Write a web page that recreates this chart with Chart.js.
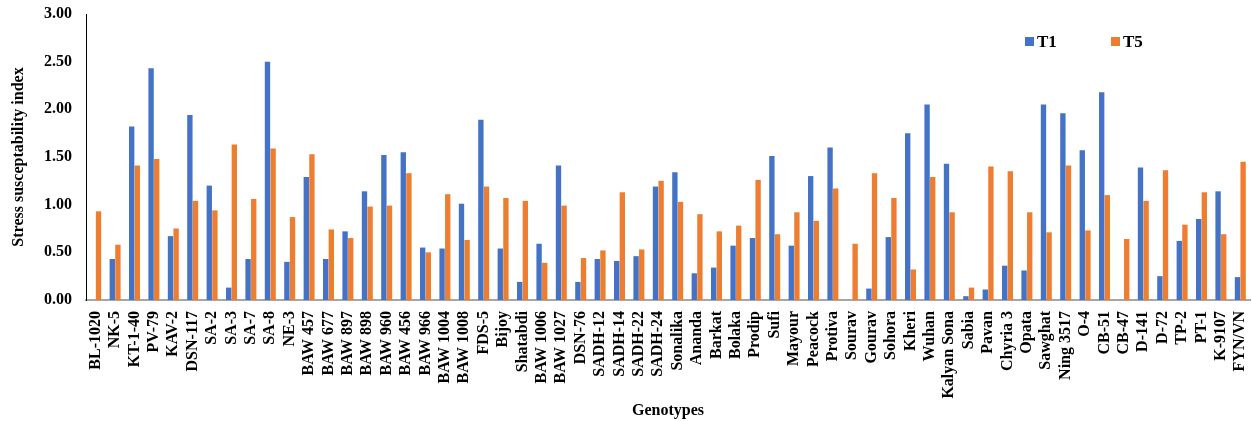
<!DOCTYPE html>
<html>
<head>
<meta charset="utf-8">
<script src="https://cdn.jsdelivr.net/npm/chart.js@4/dist/chart.umd.min.js"></script>
<style>
  html, body { margin: 0; padding: 0; background: #ffffff; }
  #wrap { position: relative; width: 1253px; height: 421px; }
</style>
</head>
<body>
<div id="wrap"><canvas id="c" width="1253" height="421"></canvas></div>
<script>
const genotypes = ["BL-1020","NK-5","KT-1-40","PV-79","KAV-2","DSN-117","SA-2","SA-3","SA-7","SA-8","NE-3","BAW 457","BAW 677","BAW 897","BAW 898","BAW 960","BAW 456","BAW 966","BAW 1004","BAW 1008","FDS-5","Bijoy","Shatabdi","BAW 1006","BAW 1027","DSN-76","SADH-12","SADH-14","SADH-22","SADH-24","Sonalika","Ananda","Barkat","Bolaka","Prodip","Sufi","Mayour","Peacock","Protiva","Sourav","Gourav","Sohora","Kheri","Wuhan","Kalyan Sona","Sabia","Pavan","Chyria 3","Opata","Sawghat","Ning 3517","O-4","CB-51","CB-47","D-141","D-72","TP-2","PT-1","K-9107","FYN/VN"];

const t1 = [0, 0.43, 1.82, 2.43, 0.67, 1.94, 1.20, 0.13, 0.43, 2.50, 0.40, 1.29, 0.43, 0.72, 1.14, 1.52, 1.55, 0.55, 0.54, 1.01, 1.89, 0.54, 0.19, 0.59, 1.41, 0.19, 0.43, 0.41, 0.46, 1.19, 1.34, 0.28, 0.34, 0.57, 0.65, 1.51, 0.57, 1.30, 1.60, 0, 0.12, 0.66, 1.75, 2.05, 1.43, 0.04, 0.11, 0.36, 0.31, 2.05, 1.96, 1.57, 2.18, 0, 1.39, 0.25, 0.62, 0.85, 1.14, 0.24];

const t5 = [0.93, 0.58, 1.41, 1.48, 0.75, 1.04, 0.94, 1.63, 1.06, 1.59, 0.87, 1.53, 0.74, 0.65, 0.98, 0.99, 1.33, 0.50, 1.11, 0.63, 1.19, 1.07, 1.04, 0.39, 0.99, 0.44, 0.52, 1.13, 0.53, 1.25, 1.03, 0.90, 0.72, 0.78, 1.26, 0.69, 0.92, 0.83, 1.17, 0.59, 1.33, 1.07, 0.32, 1.29, 0.92, 0.13, 1.40, 1.35, 0.92, 0.71, 1.41, 0.73, 1.10, 0.64, 1.04, 1.36, 0.79, 1.13, 0.69, 1.45];

const yTicks = [0, 0.5, 1.0, 1.5, 2.0, 2.5, 3.0];
const seriesNames = ["T1", "T5"];
const seriesColors = ["#4472C4", "#ED7D31"];

const serif = "'Liberation Serif', 'Times New Roman', serif";

const legendPlugin = {
  id: 'customLegend',
  afterDraw(chart) {
    const ctx = chart.ctx;
    const right = chart.chartArea.right;
    const items = [
      { x: right - 225, label: seriesNames[0], color: seriesColors[0] },
      { x: right - 139, label: seriesNames[1], color: seriesColors[1] }
    ];
    ctx.save();
    ctx.font = "bold 17px " + serif;
    ctx.textBaseline = 'alphabetic';
    ctx.textAlign = 'left';
    items.forEach(it => {
      ctx.fillStyle = it.color;
      ctx.fillRect(it.x, 37, 9, 9);
      ctx.fillStyle = '#000000';
      ctx.fillText(it.label, it.x + 12, 47);
    });
    ctx.restore();
  }
};

new Chart(document.getElementById('c'), {
  type: 'bar',
  data: {
    labels: genotypes,
    datasets: [
      { label: seriesNames[0], data: t1, backgroundColor: seriesColors[0], barPercentage: 0.95, categoryPercentage: 0.58 },
      { label: seriesNames[1], data: t5, backgroundColor: seriesColors[1], barPercentage: 0.95, categoryPercentage: 0.58 }
    ]
  },
  options: {
    responsive: false,
    animation: false,
    devicePixelRatio: 1,
    layout: { padding: { top: 14, right: 3, left: 0, bottom: 0 } },
    plugins: {
      legend: { display: false },
      tooltip: { enabled: false }
    },
    scales: {
      x: {
        grid: { display: false, drawTicks: false },
        border: { display: true, color: '#a6a6a6', width: 2 },
        ticks: {
          color: '#000000',
          font: { family: serif, size: 16, weight: 'bold' },
          maxRotation: 90,
          minRotation: 90,
          autoSkip: false,
          padding: 11
        },
        title: {
          display: true,
          text: 'Genotypes',
          color: '#000000',
          font: { family: serif, size: 16, weight: 'bold' },
          padding: { top: 4, bottom: 1 }
        },
        afterFit(scale) { scale.height = 121; scale.paddingLeft = 0; scale.paddingRight = 0; }
      },
      y: {
        min: 0,
        max: 3,
        afterBuildTicks(scale) { scale.ticks = yTicks.map(v => ({ value: v })); },
        grid: { display: false, drawTicks: false },
        border: { display: true, color: '#000000', width: 1 },
        ticks: {
          color: '#000000',
          font: { family: serif, size: 16, weight: 'bold' },
          padding: 14,
          callback: v => Number(v).toFixed(2)
        },
        title: {
          display: true,
          text: 'Stress susceptability index',
          color: '#000000',
          font: { family: serif, size: 16, weight: 'bold' },
          padding: { top: 9, bottom: 4 }
        },
        afterFit(scale) { scale.width = 86; scale.paddingTop = 0; scale.paddingBottom = 0; }
      }
    }
  },
  plugins: [legendPlugin]
});
</script>
</body>
</html>
